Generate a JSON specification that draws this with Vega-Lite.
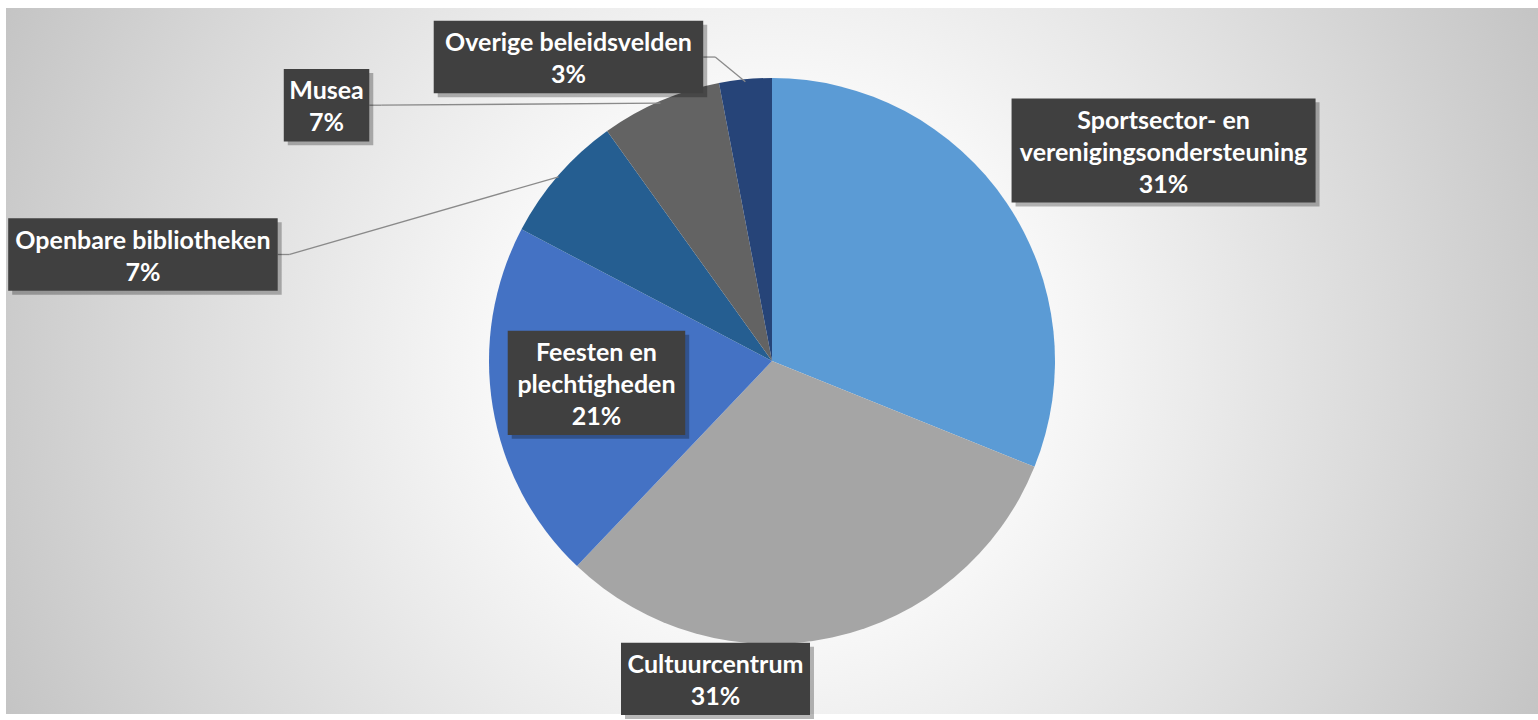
{
  "$schema": "https://vega.github.io/schema/vega-lite/v6.json",
  "width": 1538,
  "height": 720,
  "autosize": {"type": "fit", "contains": "padding"},
  "padding": {"left": 6, "top": 8, "right": 0, "bottom": 0},
  "background": "#ffffff",
  "config": {"view": {"stroke": null}},
  "data": {
    "values": [
      {"category": "Sportsector- en verenigingsondersteuning", "label": "Sportsector- en\nverenigingsondersteuning", "value": 31.1, "order": 1},
      {"category": "Cultuurcentrum", "label": "Cultuurcentrum", "value": 31.0, "order": 2},
      {"category": "Feesten en plechtigheden", "label": "Feesten en\nplechtigheden", "value": 20.6, "order": 3},
      {"category": "Openbare bibliotheken", "label": "Openbare bibliotheken", "value": 7.4, "order": 4},
      {"category": "Musea", "label": "Musea", "value": 6.9, "order": 5},
      {"category": "Overige beleidsvelden", "label": "Overige beleidsvelden", "value": 3.0, "order": 6}
    ]
  },
  "transform": [
    {"window": [{"op": "sum", "field": "value", "as": "cum"}], "sort": [{"field": "order"}], "frame": [null, 0]},
    {"joinaggregate": [{"op": "sum", "field": "value", "as": "total"}]},
    {"calculate": "2*PI*(datum.cum - datum.value/2)/datum.total", "as": "mid"},
    {"calculate": "283*sin(datum.mid)", "as": "ax"},
    {"calculate": "283*cos(datum.mid)", "as": "ay"},
    {"calculate": "datum.ax + [157,-116.5,103.7,-415.6,-333.9,-176.9][datum.order-1]", "as": "lx"},
    {"calculate": "datum.ay + [54,-44,24,-78.4,-2.1,24.8][datum.order-1]", "as": "ly"},
    {"calculate": "split(datum.label,'\\n')", "as": "lines"},
    {"calculate": "datum.ly + length(datum.lines)*32/2 - 2", "as": "ty"},
    {"calculate": "max(length(datum.lines[0]), length(datum.lines[1] || ''))", "as": "maxLen"},
    {"calculate": "(11.5*datum.maxLen+28)/2", "as": "hw"},
    {"calculate": "(32*(length(datum.lines)+1)+9)/2", "as": "hh"},
    {"calculate": "datum.label + '\\n' + format(datum.value/100,'.0%')", "as": "txt"},
    {"calculate": "datum.lx - datum.hw", "as": "bx1"},
    {"calculate": "datum.lx + datum.hw", "as": "bx2"},
    {"calculate": "datum.ly - datum.hh", "as": "by1"},
    {"calculate": "datum.ly + datum.hh", "as": "by2"},
    {"calculate": "datum.bx1 + 4", "as": "sx1"},
    {"calculate": "datum.bx2 + 4", "as": "sx2"},
    {"calculate": "datum.by1 - 4", "as": "sy1"},
    {"calculate": "datum.by2 - 4", "as": "sy2"},
    {"calculate": "sqrt(pow(max(abs(datum.ax-datum.lx)-datum.hw,0),2) + pow(max(abs(datum.ay-datum.ly)-datum.hh,0),2))", "as": "gap"},
    {"calculate": "datum.ax > datum.lx ? 1 : -1", "as": "side"},
    {"calculate": "datum.lx + datum.side*datum.hw", "as": "lead0"},
    {"calculate": "datum.lead0 + datum.side*12", "as": "lead1"}
  ],
  "layer": [
    {
      "transform": [{"filter": "datum.order == 1"}],
      "mark": {
        "type": "arc",
        "clip": true,
        "radius": 846,
        "theta": 0,
        "theta2": 6.2832,
        "fill": {
          "gradient": "radial",
          "x1": 0.5, "y1": 0.5, "r1": 0,
          "x2": 0.5, "y2": 0.5, "r2": 0.5,
          "stops": [
            {"offset": 0, "color": "#ffffff"},
            {"offset": 0.24, "color": "#fefefe"},
            {"offset": 0.5, "color": "#ebebeb"},
            {"offset": 0.75, "color": "#d8d8d8"},
            {"offset": 1, "color": "#c4c4c4"}
          ]
        }
      },
      "encoding": {}
    },
    {
      "mark": {"type": "arc", "radius": 283},
      "encoding": {
        "theta": {"field": "value", "type": "quantitative", "stack": true},
        "order": {"field": "order", "type": "quantitative"},
        "color": {
          "field": "category",
          "type": "nominal",
          "legend": null,
          "scale": {
            "domain": ["Sportsector- en verenigingsondersteuning", "Cultuurcentrum", "Feesten en plechtigheden", "Openbare bibliotheken", "Musea", "Overige beleidsvelden"],
            "range": ["#5B9BD5", "#A5A5A5", "#4472C4", "#255E91", "#636363", "#264478"]
          }
        }
      }
    },
    {
      "transform": [{"filter": "datum.gap > 30"}],
      "mark": {"type": "rule", "color": "#8a8a8a", "strokeWidth": 1.3},
      "encoding": {
        "x": {"field": "lead0", "type": "quantitative", "axis": null, "scale": {"domain": [-766, 766], "nice": false, "zero": false}},
        "y": {"field": "ly", "type": "quantitative", "axis": null, "scale": {"domain": [-356, 356], "nice": false, "zero": false}},
        "x2": {"field": "lead1"},
        "y2": {"field": "ly"}
      }
    },
    {
      "transform": [{"filter": "datum.gap > 30"}],
      "mark": {"type": "rule", "color": "#8a8a8a", "strokeWidth": 1.3},
      "encoding": {
        "x": {"field": "lead1", "type": "quantitative", "axis": null, "scale": {"domain": [-766, 766], "nice": false, "zero": false}},
        "y": {"field": "ly", "type": "quantitative", "axis": null, "scale": {"domain": [-356, 356], "nice": false, "zero": false}},
        "x2": {"field": "ax"},
        "y2": {"field": "ay"}
      }
    },
    {
      "mark": {"type": "rect", "color": "#000000", "opacity": 0.28},
      "encoding": {
        "x": {"field": "sx1", "type": "quantitative", "axis": null, "scale": {"domain": [-766, 766], "nice": false, "zero": false}},
        "x2": {"field": "sx2"},
        "y": {"field": "sy1", "type": "quantitative", "axis": null, "scale": {"domain": [-356, 356], "nice": false, "zero": false}},
        "y2": {"field": "sy2"}
      }
    },
    {
      "mark": {"type": "rect", "color": "#404040", "opacity": 1},
      "encoding": {
        "x": {"field": "bx1", "type": "quantitative", "axis": null, "scale": {"domain": [-766, 766], "nice": false, "zero": false}},
        "x2": {"field": "bx2"},
        "y": {"field": "by1", "type": "quantitative", "axis": null, "scale": {"domain": [-356, 356], "nice": false, "zero": false}},
        "y2": {"field": "by2"}
      }
    },
    {
      "mark": {"type": "text", "lineBreak": "\n", "align": "center", "baseline": "middle", "font": "Lato", "fontWeight": "bold", "fontSize": 25, "lineHeight": 32, "color": "#ffffff"},
      "encoding": {
        "x": {"field": "lx", "type": "quantitative", "axis": null, "scale": {"domain": [-766, 766], "nice": false, "zero": false}},
        "y": {"field": "ty", "type": "quantitative", "axis": null, "scale": {"domain": [-356, 356], "nice": false, "zero": false}},
        "text": {"field": "txt", "type": "nominal"}
      }
    }
  ]
}
